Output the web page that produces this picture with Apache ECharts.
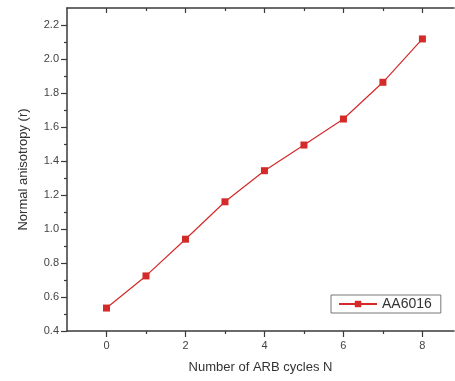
<!DOCTYPE html>
<html>
<head>
<meta charset="utf-8">
<script src="https://cdn.jsdelivr.net/npm/echarts@6/dist/echarts.min.js"></script>
<style>html,body{margin:0;padding:0;background:#fff}#c{width:455px;height:381px}</style>
</head>
<body>
<div id="c"></div>
<script>
var cycles = [0, 1, 2, 3, 4, 5, 6, 7, 8];
var anisotropy = [0.535, 0.724, 0.94, 1.16, 1.343, 1.494, 1.647, 1.863, 2.118];
var xMajorTicks = [0, 2, 4, 6, 8];
var xMinorTicks = [1, 3, 5, 7];
var yMajorTicks = [0.4, 0.6, 0.8, 1.0, 1.2, 1.4, 1.6, 1.8, 2.0, 2.2];
var yMinorTicks = [0.5, 0.7, 0.9, 1.1, 1.3, 1.5, 1.7, 1.9, 2.1];
var seriesName = 'AA6016';

var axisCol = '#3a3a3a';
var labelCol = '#444';
var red = '#d42a2a';

var chart = echarts.init(document.getElementById('c'));
function xAx(pos, ticks, len, inside, labels, line) {
  return {
    type: 'value', position: pos, min: -1, max: 8.8,
    axisLine: {show: line, onZero: false, lineStyle: {color: axisCol, width: 1.5}},
    axisTick: {show: true, inside: inside, length: len, customValues: ticks, lineStyle: {color: axisCol, width: 1.2}},
    axisLabel: labels ? {show: true, customValues: ticks, color: labelCol, fontSize: 11, fontFamily: 'Liberation Sans, Arial', margin: 9,
      formatter: function (v) { return String(v); }} : {show: false},
    splitLine: {show: false}
  };
}
function yAx(ticks, len, labels, line) {
  return {
    type: 'value', position: 'left', min: 0.4, max: 2.3,
    axisLine: {show: line, onZero: false, lineStyle: {color: axisCol, width: 1.5}},
    axisTick: {show: true, length: len, customValues: ticks, lineStyle: {color: axisCol, width: 1.2}},
    axisLabel: labels ? {show: true, customValues: ticks, color: labelCol, fontSize: 11, fontFamily: 'Liberation Sans, Arial', margin: 8,
      formatter: function (v) { return v.toFixed(1); }} : {show: false},
    splitLine: {show: false},
    name: labels ? 'Normal anisotropy (r)' : '',
    nameLocation: 'middle', nameGap: 37,
    nameTextStyle: {color: '#333', fontSize: 13, fontFamily: 'Liberation Sans, Arial'}
  };
}
var xb = xAx('bottom', xMajorTicks, 6, false, true, true);
xb.name = 'Number of ARB cycles N';
xb.nameLocation = 'middle';
xb.nameGap = 30;
xb.nameTextStyle = {color: '#333', fontSize: 13, fontFamily: 'Liberation Sans, Arial'};
chart.setOption({
  animation: false,
  grid: {left: 67, top: 8, right: 1, bottom: 50, containLabel: false},
  legend: {
    show: true, left: 331, top: 295, data: [seriesName],
    backgroundColor: '#fff',
    borderColor: '#777', borderWidth: 1, borderRadius: 0, padding: [2, 9, 2, 7],
    itemWidth: 38, itemHeight: 8, itemGap: 4,
    textStyle: {color: '#333', fontSize: 14, fontFamily: 'Liberation Sans, Arial'}
  },
  xAxis: [
    xb,
    xAx('bottom', xMinorTicks, 3, false, false, false),
    xAx('top', xMajorTicks, 5, true, false, true),
    xAx('top', xMinorTicks, 3, true, false, false)
  ],
  yAxis: [
    yAx(yMajorTicks, 6, true, true),
    yAx(yMinorTicks, 3, false, false)
  ],
  series: [{
    name: seriesName, type: 'line', xAxisIndex: 0, yAxisIndex: 0,
    data: cycles.map(function (c, i) { return [c, anisotropy[i]]; }),
    symbol: 'rect', symbolSize: 7, showSymbol: true,
    lineStyle: {color: red, width: 1.2},
    itemStyle: {color: red}
  }]
});
</script>
</body>
</html>
